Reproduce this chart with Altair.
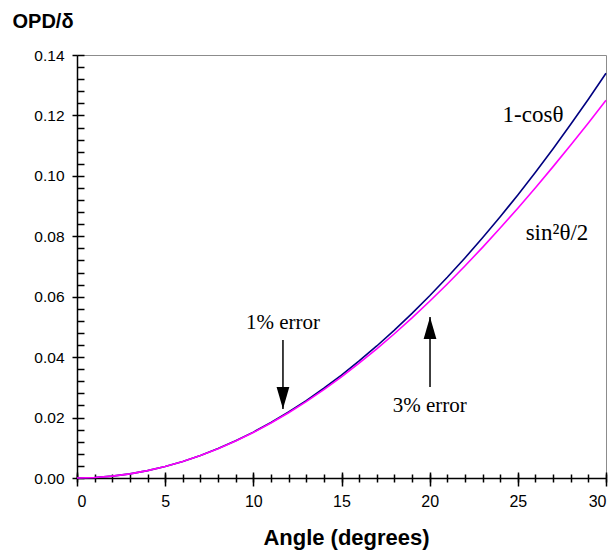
import altair as alt
import pandas as pd

# ---- data ----
angles = list(range(0, 31))
one_minus_cos = [0.0, 0.000152, 0.000609, 0.00137, 0.002436, 0.003805, 0.005478,
                 0.007454, 0.009732, 0.012312, 0.015192, 0.018373, 0.021852,
                 0.02563, 0.029704, 0.034074, 0.038738, 0.043695, 0.048943,
                 0.054482, 0.060307, 0.06642, 0.072816, 0.079495, 0.086455,
                 0.093692, 0.101206, 0.108993, 0.117052, 0.125381, 0.133975]
half_sin_sq = [0.0, 0.000152, 0.000609, 0.001369, 0.002433, 0.003798, 0.005463,
               0.007426, 0.009685, 0.012236, 0.015077, 0.018204, 0.021614,
               0.025302, 0.029263, 0.033494, 0.037988, 0.042741, 0.047746,
               0.052997, 0.058489, 0.064214, 0.070165, 0.076336, 0.082717,
               0.089303, 0.096085, 0.103054, 0.110202, 0.11752, 0.125]

x_major = [0, 5, 10, 15, 20, 25, 30]
x_minor = list(range(0, 31))
y_major = [0.0, 0.02, 0.04, 0.06, 0.08, 0.10, 0.12, 0.14]
y_minor = [round(i * 0.004, 3) for i in range(36)]

curve_labels = ["1-cosθ", "sin²θ/2"]
curve_label_x = [25.86, 27.22]
curve_label_y = [0.1201, 0.0811]

note_labels = ["1% error", "3% error"]
note_x = [11.68, 20.0]
note_y = [0.0513, 0.0238]

arrow_x = [11.68, 20.02]
arrow_tail = [0.0457, 0.0301]
arrow_tip = [0.0228, 0.0533]
arrow_dir = ["down", "up"]

W, H = 529, 423

curves = pd.DataFrame({"angle": angles, "a": one_minus_cos, "b": half_sin_sq})
clab = pd.DataFrame({"text": curve_labels, "x": curve_label_x, "y": curve_label_y})
nlab = pd.DataFrame({"text": note_labels, "x": note_x, "y": note_y})
arrows = pd.DataFrame({"x": arrow_x, "y0": arrow_tail, "y1": arrow_tip, "dir": arrow_dir})

xs = alt.Scale(domain=[0, 30], nice=False, zero=False)
ys = alt.Scale(domain=[0, 0.14], nice=False, zero=False)

common = dict(grid=False, tickColor="black", domainColor="black",
              tickWidth=1.5, domainWidth=1.5)

ax_x_main = alt.Axis(orient="bottom", values=x_major, tickSize=8, labelPadding=7,
                     format="d", labelFont="Liberation Sans", labelFontSize=16,
                     labelColor="black", title="Angle (degrees)",
                     titleFont="Liberation Sans", titleFontSize=22,
                     titleFontWeight="bold", titleColor="black",
                     titleBaseline="alphabetic", titleY=66, titleX=269, **common)
ax_x_minor = alt.Axis(orient="bottom", values=x_minor, tickSize=4, labels=False,
                      domain=False, title=None, **common)
ax_x_top_major = alt.Axis(orient="top", offset=-H, values=x_major, tickSize=6,
                          labels=False, domain=False, title=None, **common)
ax_x_top_minor = alt.Axis(orient="top", offset=-H, values=x_minor, tickSize=4,
                          labels=False, domain=False, title=None, **common)

ax_y_main = alt.Axis(orient="left", values=y_major, tickSize=5, labelPadding=8,
                     format=".2f", labelFont="Liberation Sans", labelFontSize=15.5,
                     labelColor="black", title="OPD/δ", titleAngle=0,
                     titleFont="Liberation Sans", titleFontSize=20,
                     titleFontWeight="bold", titleColor="black",
                     titleAlign="left", titleBaseline="alphabetic",
                     titleX=-65, titleY=-28, **common)
ax_y_inner = alt.Axis(orient="right", offset=-W, values=y_minor, tickSize=7,
                      labels=False, domain=False, title=None, **common)

line_a = alt.Chart(curves).mark_line(color="#000080", strokeWidth=1.6).encode(
    x=alt.X("angle:Q", scale=xs, axis=ax_x_main),
    y=alt.Y("a:Q", scale=ys, axis=ax_y_main),
)
line_b = alt.Chart(curves).mark_line(color="#ff00ff", strokeWidth=1.6).encode(
    x=alt.X("angle:Q", scale=xs, axis=ax_x_minor),
    y=alt.Y("b:Q", scale=ys, axis=ax_y_inner),
)
text_curves = alt.Chart(clab).mark_text(font="Liberation Serif", fontSize=23,
                                        color="black").encode(
    x=alt.X("x:Q", scale=xs, axis=ax_x_top_major),
    y=alt.Y("y:Q", scale=ys, axis=None),
    text="text:N",
)
text_notes = alt.Chart(nlab).mark_text(font="Liberation Serif", fontSize=21,
                                       color="black").encode(
    x=alt.X("x:Q", scale=xs, axis=ax_x_top_minor),
    y=alt.Y("y:Q", scale=ys, axis=None),
    text="text:N",
)
shafts = alt.Chart(arrows).mark_rule(color="black", strokeWidth=1.5).encode(
    x=alt.X("x:Q", scale=xs, axis=None),
    y=alt.Y("y0:Q", scale=ys, axis=None),
    y2="y1:Q",
)
heads = alt.Chart(arrows).mark_point(filled=True, size=484, color="black",
                                     opacity=1, strokeWidth=0).encode(
    x=alt.X("x:Q", scale=xs, axis=None),
    y=alt.Y("y1:Q", scale=ys, axis=None),
    shape=alt.Shape("dir:N", scale=alt.Scale(
        domain=["down", "up"],
        range=["M-0.58,-2L0.58,-2L0,0Z", "M-0.58,2L0.58,2L0,0Z"]), legend=None),
)

chart = alt.layer(line_a, line_b, text_curves, text_notes, shafts, heads).resolve_axis(
    x="independent", y="independent"
).properties(
    width=W, height=H, autosize="none",
    padding={"left": 77, "top": 55, "right": 10, "bottom": 74},
    background="white",
).configure_view(stroke="#8c8c8c", strokeWidth=1)

chart.save("out.html", embed_options={"renderer": "svg", "actions": False})
